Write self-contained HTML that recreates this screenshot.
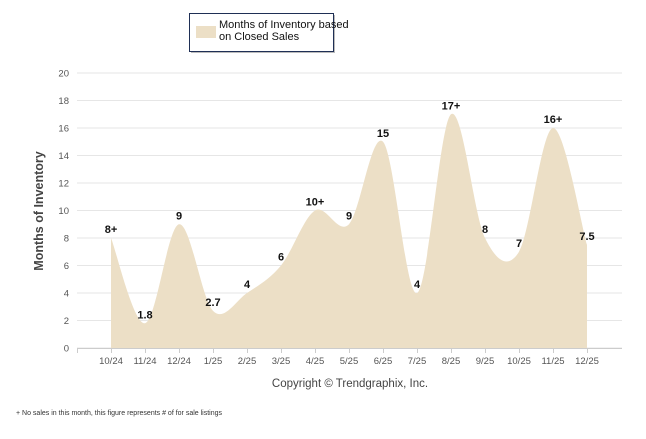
<!DOCTYPE html>
<html><head><meta charset="utf-8"><style>
body{margin:0;background:#fff;width:646px;height:434px;overflow:hidden;font-family:"Liberation Sans",Arial,sans-serif}
</style></head><body>
<svg id="chart" width="646" height="434" viewBox="0 0 646 434" xmlns="http://www.w3.org/2000/svg">
<g id="grid"></g>
<g id="yticks"></g>
<path id="area" fill="#ecdfc6"/>
<g id="xticks"></g>
<g id="labels"></g>
<text x="0" y="0" transform="translate(43,211) rotate(-90)" text-anchor="middle" font-size="12.5" font-weight="bold" fill="#444">Months of Inventory</text>
<text x="350" y="387" text-anchor="middle" font-size="11.5" fill="#444">Copyright © Trendgraphix, Inc.</text>
<text x="16" y="415" font-size="7" fill="#333">+  No sales in this month, this figure represents # of for sale listings</text>
<g>
<rect x="191" y="15" width="144" height="38" fill="#777" opacity="0.5"/>
<rect x="189.5" y="13.5" width="144" height="38" fill="#fff" stroke="#1f2f55" stroke-width="1"/>
<rect x="196" y="26" width="20" height="12" fill="#ecdfc6"/>
<text x="219" y="28" font-size="11" fill="#111"><tspan x="219">Months of Inventory based</tspan><tspan x="219" dy="12">on Closed Sales</tspan></text>
</g>
</svg>
<script>
const categories=["10/24","11/24","12/24","1/25","2/25","3/25","4/25","5/25","6/25","7/25","8/25","9/25","10/25","11/25","12/25"];
const values=[8,1.8,9,2.7,4,6,10,9,15,4,17,8,7,16,7.5];
const valueLabels=["8+","1.8","9","2.7","4","6","10+","9","15","4","17+","8","7","16+","7.5"];
const yTicks=[0,2,4,6,8,10,12,14,16,18,20];
const NS="http://www.w3.org/2000/svg";
const x0=111,dx=34,yb=348,ppu=13.75;
const X=i=>x0+i*dx, Y=v=>yb-v*ppu;
function mk(t,a,p,txt){const e=document.createElementNS(NS,t);for(const k in a)e.setAttribute(k,a[k]);if(txt!=null)e.textContent=txt;p.appendChild(e);return e;}
const grid=document.getElementById('grid'),yt=document.getElementById('yticks'),xt=document.getElementById('xticks'),lb=document.getElementById('labels');
yTicks.forEach(v=>{
 const l=mk('line',{x1:77,x2:622,y1:Y(v),y2:Y(v),stroke:'#e6e6e6','stroke-width':1},grid);
 
 
 const t=mk('text',{x:69,y:Y(v)+3.5,'text-anchor':'end','font-size':9.5,fill:'#555'},yt,v);
 
 
});
mk('line',{x1:77,x2:622,y1:yb+0.5,y2:yb+0.5,stroke:'#ccc'},xt);
mk('line',{x1:77.5,x2:77.5,y1:yb,y2:yb+5,stroke:'#ccc'},xt);
categories.forEach((c,i)=>{
 mk('line',{x1:X(i)+0.5,x2:X(i)+0.5,y1:yb,y2:yb+5,stroke:'#ccc'},xt);
 const t=mk('text',{x:X(i),y:364,'text-anchor':'middle','font-size':9.5,fill:'#555'},xt,c);
 
 
});
const pts=values.map((v,i)=>[X(i),Y(v)]);
let d=`M${pts[0][0]},${yb} L${pts[0][0]},${pts[0][1]}`;
const tn=0.5;
for(let i=0;i<pts.length-1;i++){
 const p0=pts[Math.max(0,i-1)],p1=pts[i],p2=pts[i+1],p3=pts[Math.min(pts.length-1,i+2)];
 const c1=[p1[0]+(p2[0]-p0[0])*tn/3,p1[1]+(p2[1]-p0[1])*tn/3];
 const c2=[p2[0]-(p3[0]-p1[0])*tn/3,p2[1]-(p3[1]-p1[1])*tn/3];
 d+=` C${c1[0]},${Math.min(c1[1],yb)} ${c2[0]},${Math.min(c2[1],yb)} ${p2[0]},${p2[1]}`;
}
d+=` L${pts[pts.length-1][0]},${yb} Z`;
document.getElementById('area').setAttribute('d',d);
values.forEach((v,i)=>{
 const t=mk('text',{x:X(i),y:Y(v)-5,'text-anchor':'middle','font-size':11,'font-weight':'bold',fill:'#111'},lb,valueLabels[i]);
 
 
});
</script>
</body></html>
